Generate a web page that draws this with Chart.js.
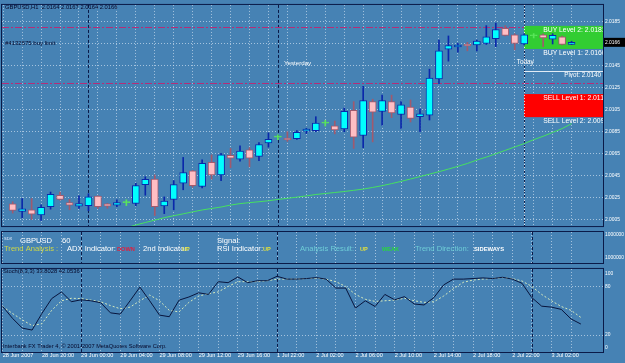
<!DOCTYPE html>
<html>
<head>
<meta charset="utf-8">
<script src="https://cdn.jsdelivr.net/npm/chart.js@4.4.0/dist/chart.umd.min.js"></script>
<style>
  html, body { margin: 0; padding: 0; background: #4682b4; }
  #wrap { position: relative; width: 625px; height: 363px; overflow: hidden; background: #4682b4; }
  #wrap canvas { position: absolute; left: 0; }
</style>
</head>
<body>
<div id="wrap">
  <canvas id="price-chart" width="625" height="231" style="top:0"></canvas>
  <canvas id="signal-panel" width="625" height="34" style="top:230px"></canvas>
  <canvas id="stoch-chart" width="625" height="99" style="top:264px"></canvas>
</div>
<script>
// GBPUSD H1 candles, 28 Jun 16:00 .. 3 Jul 05:00
const opens = [2.00191, 2.00123, 2.00138, 2.00091, 2.00167, 2.00270, 2.00203, 2.00170, 2.00176, 2.00262,
    2.00191, 2.00179, 2.00203, 2.00196, 2.00367, 2.00417, 2.00174, 2.00232, 2.00379, 2.00491,
    2.00350, 2.00570, 2.00455, 2.00632, 2.00599, 2.00684, 2.00623, 2.00746, 2.00799, 2.00790,
    2.00784, 2.00852, 2.00857, 2.00925, 2.00901, 2.00872, 2.01042, 2.00813, 2.01121, 2.01033,
    2.01121, 2.01004, 2.01072, 2.00984, 2.00998, 2.01328, 2.01597, 2.01618, 2.01641, 2.01636,
    2.01650, 2.01694, 2.01788, 2.01729, 2.01645, 2.01720, 2.01729, 2.01689, 2.01709, 2.01640]
const highs = [2.00211, 2.00240, 2.00240, 2.00182, 2.00299, 2.00299, 2.00232, 2.00264, 2.00284, 2.00265,
    2.00196, 2.00229, 2.00229, 2.00379, 2.00438, 2.00455, 2.00255, 2.00403, 2.00614, 2.00496,
    2.00593, 2.00637, 2.00652, 2.00696, 2.00720, 2.00702, 2.00749, 2.00837, 2.00819, 2.00848,
    2.00857, 2.00878, 2.00984, 2.00951, 2.00945, 2.01063, 2.01121, 2.01260, 2.01143, 2.01180,
    2.01180, 2.01121, 2.01136, 2.01054, 2.01416, 2.01680, 2.01718, 2.01650, 2.01659, 2.01680,
    2.01812, 2.01835, 2.01812, 2.01738, 2.01738, 2.01740, 2.01738, 2.01738, 2.01718, 2.01670]
const lows = [2.00108, 2.00064, 2.00050, 2.00041, 2.00144, 2.00226, 2.00138, 2.00150, 2.00129, 2.00150,
    2.00152, 2.00167, 2.00176, 2.00174, 2.00270, 2.00085, 2.00103, 2.00138, 2.00320, 2.00343,
    2.00337, 2.00417, 2.00403, 2.00520, 2.00579, 2.00528, 2.00584, 2.00707, 2.00775, 2.00760,
    2.00778, 2.00831, 2.00848, 2.00899, 2.00828, 2.00848, 2.00696, 2.00702, 2.00755, 2.00907,
    2.00975, 2.00878, 2.00936, 2.00848, 2.00954, 2.01284, 2.01489, 2.01571, 2.01583, 2.01583,
    2.01641, 2.01621, 2.01718, 2.01592, 2.01636, 2.01700, 2.01621, 2.01645, 2.01636, 2.01640]
const closes = [2.00132, 2.00147, 2.00097, 2.00161, 2.00279, 2.00232, 2.00179, 2.00194, 2.00255, 2.00167,
    2.00170, 2.00203, 2.00203, 2.00358, 2.00414, 2.00167, 2.00217, 2.00367, 2.00476, 2.00358,
    2.00561, 2.00455, 2.00637, 2.00608, 2.00672, 2.00608, 2.00731, 2.00778, 2.00799, 2.00773,
    2.00843, 2.00872, 2.00925, 2.00925, 2.00863, 2.01033, 2.00799, 2.01130, 2.01025, 2.01130,
    2.01019, 2.01092, 2.00969, 2.01010, 2.01336, 2.01583, 2.01630, 2.01636, 2.01630, 2.01671,
    2.01709, 2.01777, 2.01724, 2.01650, 2.01729, 2.01720, 2.01700, 2.01724, 2.01641, 2.01660]
const movingAvg = [null, null, null, null, null, null, null, null, null, null, null, null,
    1.99974, 2.00000, 2.00022, 2.00044, 2.00066, 2.00084, 2.00101, 2.00119, 2.00136, 2.00150,
    2.00163, 2.00181, 2.00194, 2.00203, 2.00211, 2.00220, 2.00232, 2.00242, 2.00253, 2.00264,
    2.00277, 2.00286, 2.00295, 2.00304, 2.00315, 2.00326, 2.00341, 2.00357, 2.00376, 2.00396,
    2.00418, 2.00440, 2.00462, 2.00484, 2.00508, 2.00533, 2.00559, 2.00590, 2.00617, 2.00647,
    2.00678, 2.00709, 2.00740, 2.00775, 2.00806, 2.00841, 2.00876, 2.00921]
const stochMain = [55.6, 40.9, 28.7, 26.3, 46.9, 65.4, 73.7, 61.5, 63.9, 62.7,
    60.3, 47.7, 46.1, 62.7, 79.7, 62.7, 44.9, 42.9, 63.5, 67.4,
    72.6, 70.6, 86.4, 85.2, 92.3, 85.2, 87.6, 87.6, 93.1, 89.6,
    89.6, 90.3, 91.5, 89.6, 78.5, 78.5, 53.6, 62.7, 55.6, 70.6,
    63.9, 67.8, 58.7, 57.5, 66.6, 82.4, 89.6, 89.6, 90.3, 91.1,
    90.3, 91.9, 89.6, 84.4, 66.6, 56.0, 54.8, 52.0, 40.1, 33.8]
const stochSignal = [55.6, 46.9, 39.0, 31.8, 34.2, 50.8, 62.7, 65.8, 65.4, 63.5,
    61.5, 56.7, 52.8, 54.8, 62.7, 69.8, 62.7, 50.8, 48.8, 60.7,
    68.6, 71.4, 73.7, 80.5, 86.4, 86.4, 86.4, 87.6, 89.6, 89.6,
    89.6, 90.3, 90.7, 89.6, 86.4, 80.5, 70.6, 64.6, 61.9, 62.7,
    63.5, 65.8, 62.7, 60.7, 61.5, 68.6, 77.7, 85.6, 88.4, 89.6,
    90.3, 91.5, 90.3, 87.2, 80.5, 70.6, 62.7, 55.6, 50.8, 42.05]

const timeLabels = ['28 Jun 2007', '28 Jun 20:00', '29 Jun 00:00', '29 Jun 04:00', '29 Jun 08:00',
    '29 Jun 12:00', '29 Jun 16:00', '1 Jul 22:00', '2 Jul 02:00', '2 Jul 06:00', '2 Jul 10:00',
    '2 Jul 14:00', '2 Jul 18:00', '2 Jul 22:00', '3 Jul 02:00']
const priceTicks = [2.0005, 2.0025, 2.0045, 2.0065, 2.0085, 2.0105, 2.0125, 2.0145, 2.0165, 2.0185]
const stochLevels = [0, 20, 80, 100]
const daySeparators = [8, 28, 54]
const yesterdayBar = 28
const todayBar = 54
const yesterdayRange = [2.0129, 2.0180]
const pivotLevel = 2.0140
const buyLevels = [2.0160, 2.0181]
const sellLevels = [2.0119, 2.0098]
const bidPrice = 2.0166

const navy = '#0a1a48'
const gridColor = 'rgba(205, 222, 240, 0.7)'
const FONT = 'Liberation Sans'

Chart.defaults.font.family = FONT
Chart.defaults.animation = false
Chart.defaults.events = []
Chart.defaults.plugins.legend.display = false
Chart.defaults.plugins.tooltip.enabled = false

const gridBars = []
for (let b = 0; b < opens.length; b += 2) gridBars.push(b)

const kind = opens.map((o, i) => closes[i] > o ? 'bull' : closes[i] < o ? 'bear' : 'doji')
const bodyFill = { bull: '#00ffff', bear: 'rgb(255, 190, 196)', doji: 'rgb(90, 230, 90)' }
const bodyEdge = { bull: 'rgb(10, 40, 170)', bear: 'rgb(160, 90, 110)', doji: 'rgb(90, 230, 90)' }

function text(ctx, str, x, y, color, font, align) {
    ctx.font = font + ' ' + FONT
    ctx.fillStyle = color
    ctx.textAlign = align || 'left'
    ctx.textBaseline = 'middle'
    ctx.fillText(str, x, y)
}

function xAxis(showLabels) {
    return {
        type: 'linear',
        min: -0.07,
        max: 61.26,
        afterBuildTicks: s => { s.ticks = gridBars.map(v => ({ value: v })) },
        afterFit: s => { s.height = showLabels ? 11 : 0 },
        grid: { color: gridColor, drawTicks: false },
        border: { display: false, dash: [1, 2] },
        ticks: {
            display: showLabels, autoSkip: false, maxRotation: 0, align: 'start', padding: 0,
            color: '#ffffff', font: { size: 5.6 },
            callback: v => v % 4 === 0 ? timeLabels[v / 4] : '',
        },
    }
}

function drawSeparators(chart) {
    const { ctx, chartArea: a, scales: { x } } = chart
    ctx.save()
    ctx.strokeStyle = navy
    ctx.lineWidth = 1
    ctx.setLineDash([3, 2])
    daySeparators.forEach(b => {
        const px = Math.round(x.getPixelForValue(b)) + 0.5
        ctx.beginPath(); ctx.moveTo(px, a.top); ctx.lineTo(px, a.bottom); ctx.stroke()
    })
    ctx.restore()
}

const panelFrame = {
    id: 'panelFrame',
    afterDraw(chart) {
        const { ctx, chartArea: a } = chart
        ctx.save()
        ctx.strokeStyle = navy
        ctx.lineWidth = 1
        ctx.strokeRect(a.left - 0.5, a.top - 0.5, a.right - a.left + 1, a.bottom - a.top + 1)
        ctx.restore()
    }
}

// chart objects: separators, pivot boxes, labels
const priceObjects = {
    id: 'priceObjects',
    beforeDatasetsDraw(chart) {
        const { ctx, chartArea: a, scales: { x, y } } = chart
        drawSeparators(chart)
        ctx.save()
        ctx.beginPath(); ctx.rect(a.left, a.top, a.right - a.left, a.bottom - a.top); ctx.clip()
        ctx.strokeStyle = 'rgb(180, 45, 120)'
        ctx.lineWidth = 1
        ctx.setLineDash([7, 2, 2, 2])
        yesterdayRange.forEach(p => {
            const py = Math.round(y.getPixelForValue(p)) + 0.5
            ctx.beginPath(); ctx.moveTo(a.left, py); ctx.lineTo(a.right, py); ctx.stroke()
        })
        ctx.setLineDash([])
        const x0 = Math.round(x.getPixelForValue(todayBar))
        ctx.fillStyle = 'rgb(50, 205, 50)'
        ctx.fillRect(x0, y.getPixelForValue(buyLevels[1]), a.right - x0, y.getPixelForValue(buyLevels[0]) - y.getPixelForValue(buyLevels[1]))
        ctx.fillStyle = '#ff0000'
        ctx.fillRect(x0, y.getPixelForValue(sellLevels[0]), a.right - x0, y.getPixelForValue(sellLevels[1]) - y.getPixelForValue(sellLevels[0]))
        const pp = Math.round(y.getPixelForValue(pivotLevel)) + 0.5
        ctx.strokeStyle = 'rgb(225, 235, 245)'
        ctx.beginPath(); ctx.moveTo(x0, pp); ctx.lineTo(a.right, pp); ctx.stroke()
        ctx.strokeStyle = 'rgba(255, 255, 255, 0.9)'
        ctx.setLineDash([1, 2])
        ctx.beginPath(); ctx.moveTo(x0 + 0.5, a.top); ctx.lineTo(x0 + 0.5, a.bottom); ctx.stroke()
        ctx.restore()
    },
    afterDraw(chart) {
        const { ctx, chartArea: a, scales: { x, y } } = chart
        ctx.save()
        ctx.beginPath(); ctx.rect(a.left, a.top, a.right - a.left, a.bottom - a.top); ctx.clip()
        const lx = x.getPixelForValue(todayBar) + 19
        const levelText = (label, p) => text(ctx, label + p.toFixed(4), lx, y.getPixelForValue(p) + 3.8, '#ffffff', '6.8px')
        levelText('BUY Level 2: ', buyLevels[1])
        levelText('BUY Level 1: ', buyLevels[0])
        levelText('SELL Level 1: ', sellLevels[0])
        levelText('SELL Level 2: ', sellLevels[1])
        text(ctx, 'Pivot: ' + pivotLevel.toFixed(4), a.right - 2, y.getPixelForValue(pivotLevel) + 4.5, '#ffffff', '6.3px', 'right')
        text(ctx, 'Yesterday', x.getPixelForValue(yesterdayBar) + 6, 63, '#ffffff', '6.2px')
        text(ctx, 'Today', x.getPixelForValue(todayBar) + 1, 62.7, '#ffffff', '6.4px', 'center')
        text(ctx, 'GBPUSD,H1  ' + [opens[59], highs[59], lows[59], closes[59]].map(v => v.toFixed(4)).join(' '), 5, 7, '#05082a', '5.8px')
        text(ctx, '#4132575 buy limit', 5, 43.5, '#05082a', '6px')
        ctx.restore()
        // bid price marker on the axis
        const by = y.getPixelForValue(bidPrice)
        ctx.save()
        ctx.fillStyle = '#000000'
        ctx.fillRect(a.right + 1, by - 4.5, 22, 9)
        text(ctx, bidPrice.toFixed(4), a.right + 2, by, '#ffffff', '4.9px')
        ctx.restore()
    }
}

const priceConfig = {
    type: 'bar',
    data: {
        datasets: [
            {
                order: 0,
                data: opens.map((o, i) => ({ x: i, y: [o, closes[i]] })),
                backgroundColor: kind.map(k => bodyFill[k]),
                borderColor: kind.map(k => bodyEdge[k]),
                borderWidth: 1,
                borderSkipped: false,
                barThickness: 7,
                minBarLength: 1,
                grouped: false,
            },
            {
                order: 1,
                data: lows.map((l, i) => ({ x: i, y: [l, highs[i]] })),
                backgroundColor: kind.map(k => bodyEdge[k]),
                borderWidth: 0,
                barThickness: 1,
                grouped: false,
            },
            {
                type: 'line',
                order: 2,
                data: movingAvg.map((v, i) => ({ x: i, y: v })),
                borderColor: 'rgb(70, 225, 95)',
                borderWidth: 1,
                pointRadius: 0,
                tension: 0,
            },
        ],
    },
    options: {
        responsive: false,
        layout: { padding: { left: 2, top: 2, right: 0, bottom: 1 } },
        scales: {
            x: xAxis(false),
            y: {
                position: 'right',
                min: 1.9999,
                max: 2.0200,
                afterBuildTicks: s => { s.ticks = priceTicks.map(v => ({ value: v })) },
                afterFit: s => { s.width = 22 },
                grid: { color: gridColor, drawTicks: false },
                border: { display: false, dash: [1, 2] },
                ticks: { color: '#ffffff', font: { size: 4.9 }, padding: 2, callback: v => v.toFixed(4) },
            },
        },
    },
    plugins: [priceObjects, panelFrame],
}

// indicator text panel
const signalTexts = [
    ['SDX', 4, 9, '#e8f0ff', '4px'],
    ['GBPUSD', 20, 10.5, '#ffffff', '7.6px'],
    ['60', 62, 10.5, '#ffffff', '7.6px'],
    ['Signal:', 217, 10.5, '#ffffff', '7.6px'],
    ['Trend Analysis :', 4, 19, 'rgb(205, 215, 70)', '7.6px'],
    ['ADX Indicator:', 67, 19, '#ffffff', '7.6px'],
    ['DOWN', 117, 19.5, 'rgb(225, 30, 60)', 'bold 5.6px'],
    ['2nd Indicator:', 143, 19, '#ffffff', '7.6px'],
    ['UP', 182, 19.5, 'rgb(225, 225, 60)', 'bold 5.6px'],
    ['RSI Indicator:', 217, 19, '#ffffff', '7.6px'],
    ['UP', 263, 19.5, 'rgb(225, 225, 60)', 'bold 5.6px'],
    ['Analysis Result:', 300, 19, 'rgb(110, 205, 215)', '7.6px'],
    ['UP', 360, 19.5, 'rgb(225, 225, 60)', 'bold 5.6px'],
    ['WEAK', 382, 19.5, 'rgb(40, 215, 60)', 'bold 5.6px'],
    ['Trend Direction:', 415, 19, 'rgb(110, 205, 215)', '7.6px'],
    ['SIDEWAYS', 474, 19.5, '#ffffff', 'bold 5.8px'],
]
const signalObjects = {
    id: 'signalObjects',
    beforeDatasetsDraw(chart) { drawSeparators(chart) },
    afterDraw(chart) {
        const { ctx, chartArea: a } = chart
        ctx.save()
        signalTexts.forEach(t => text(ctx, t[0], t[1], t[2], t[3], t[4]))
        text(ctx, '1000000', a.right + 2, 5, '#ffffff', '4.9px')
        text(ctx, '1000000', a.right + 2, 28, '#ffffff', '4.9px')
        ctx.restore()
    }
}
const signalConfig = {
    type: 'line',
    data: { datasets: [] },
    options: {
        responsive: false,
        layout: { padding: { left: 2, top: 2, right: 0, bottom: 1 } },
        scales: {
            x: xAxis(false),
            y: {
                position: 'right', min: 0, max: 1,
                afterFit: s => { s.width = 22 },
                grid: { display: false },
                border: { display: false },
                ticks: { display: false },
            },
        },
    },
    plugins: [signalObjects, panelFrame],
}

// stochastic oscillator
const stochObjects = {
    id: 'stochObjects',
    beforeDatasetsDraw(chart) { drawSeparators(chart) },
    afterDraw(chart) {
        const { ctx, chartArea: a } = chart
        ctx.save()
        text(ctx, 'Stoch(8,3,3) 33.8028 42.0536', 3, 7, '#05082a', '5.8px')
        text(ctx, 'Interbank FX Trader 4, \u00a9 2001-2007 MetaQuotes Software Corp.', 3, 82, '#05082a', '5.7px')
        // end levels sit just inside the panel, as the terminal draws them
        text(ctx, String(stochLevels[3]), a.right + 2, a.top + 5, '#ffffff', '4.9px')
        text(ctx, String(stochLevels[0]), a.right + 2, a.bottom - 4, '#ffffff', '4.9px')
        ctx.restore()
    }
}
const stochConfig = {
    type: 'line',
    data: {
        datasets: [
            {
                data: stochMain.map((v, i) => ({ x: i, y: v })),
                borderColor: 'rgb(8, 20, 60)',
                borderWidth: 1,
                pointRadius: 0,
                tension: 0,
            },
            {
                data: stochSignal.map((v, i) => ({ x: i, y: v })),
                borderColor: 'rgb(215, 235, 190)',
                borderDash: [2, 2],
                borderWidth: 1,
                pointRadius: 0,
                tension: 0,
            },
        ],
    },
    options: {
        responsive: false,
        layout: { padding: { left: 2, top: 1, right: 0, bottom: 0 } },
        scales: {
            x: xAxis(true),
            y: {
                position: 'right', min: -0.95, max: 102.25,
                afterBuildTicks: s => { s.ticks = stochLevels.map(v => ({ value: v })) },
                afterFit: s => { s.width = 22 },
                grid: { color: c => c.tick && c.tick.value % 100 === 0 ? 'rgba(0,0,0,0)' : gridColor, drawTicks: false },
                border: { display: false, dash: [1, 2] },
                ticks: { color: '#ffffff', font: { size: 4.9 }, padding: 2, callback: v => v % 100 === 0 ? '' : String(v) },
            },
        },
    },
    plugins: [stochObjects, panelFrame],
}

const priceChart = new Chart(document.getElementById('price-chart'), priceConfig)
const signalChart = new Chart(document.getElementById('signal-panel'), signalConfig)
const stochChart = new Chart(document.getElementById('stoch-chart'), stochConfig)
</script>
</body>
</html>
